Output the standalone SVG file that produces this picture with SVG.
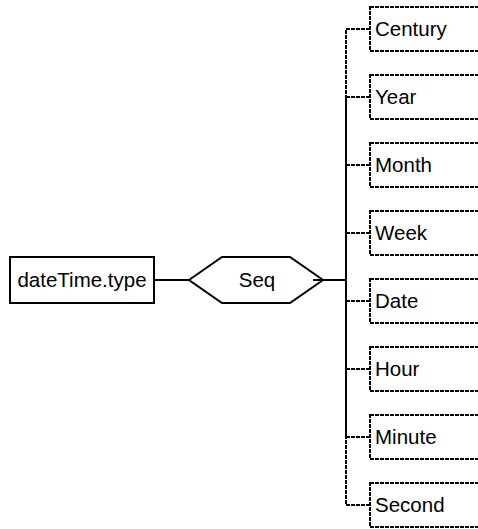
<svg xmlns="http://www.w3.org/2000/svg" width="478" height="529" viewBox="0 0 478 529">
<style>
text{font-family:"Liberation Sans",Arial,sans-serif;font-size:20.5px;fill:#000}
.solid{fill:#fff;stroke:#000;stroke-width:2}
.opt{fill:none;stroke:#000;stroke-width:2;stroke-dasharray:4,1}
.conn{fill:none;stroke:#000;stroke-width:2}
.dconn{fill:none;stroke:#000;stroke-width:2;stroke-dasharray:4,1}
</style>
<g id="connectors">
<line class="conn" x1="154" y1="280" x2="189" y2="280"/>
<line class="conn" x1="313" y1="280" x2="346" y2="280"/>
<polyline class="dconn" points="370,29 346,29 346,280"/>
<polyline class="dconn" points="370,97 346,97 346,280"/>
<polyline class="dconn" points="370,165 346,165 346,280"/>
<polyline class="dconn" points="370,233 346,233 346,280"/>
<polyline class="dconn" points="370,301 346,301 346,280"/>
<polyline class="dconn" points="370,369 346,369 346,280"/>
<polyline class="dconn" points="370,437 346,437 346,280"/>
<polyline class="dconn" points="370,505 346,505 346,280"/>
<line x1="346" y1="279" x2="346" y2="282" stroke="#000" stroke-width="2"/>
</g>
<g id="dateTime.type">
<rect class="solid" x="10" y="257" width="144" height="46"/>
<text x="82" y="287" text-anchor="middle">dateTime.type</text>
</g>
<g id="seq">
<polygon class="solid" points="189,280 222,257 290,257 323,280 290,303 222,303"/>
<line class="conn" x1="313" y1="280" x2="323" y2="280"/>
<text x="257" y="287" text-anchor="middle">Seq</text>
</g>
<g id="century"><rect class="opt" x="370" y="7" width="120" height="44"/><text x="375" y="36">Century</text></g>
<g id="year"><rect class="opt" x="370" y="75" width="120" height="44"/><text x="375" y="104">Year</text></g>
<g id="month"><rect class="opt" x="370" y="143" width="120" height="44"/><text x="375" y="172">Month</text></g>
<g id="week"><rect class="opt" x="370" y="211" width="120" height="44"/><text x="375" y="240">Week</text></g>
<g id="date"><rect class="opt" x="370" y="279" width="120" height="44"/><text x="375" y="308">Date</text></g>
<g id="hour"><rect class="opt" x="370" y="347" width="120" height="44"/><text x="375" y="376">Hour</text></g>
<g id="minute"><rect class="opt" x="370" y="415" width="120" height="44"/><text x="375" y="444">Minute</text></g>
<g id="second"><rect class="opt" x="370" y="483" width="120" height="44"/><text x="375" y="512">Second</text></g>
</svg>
